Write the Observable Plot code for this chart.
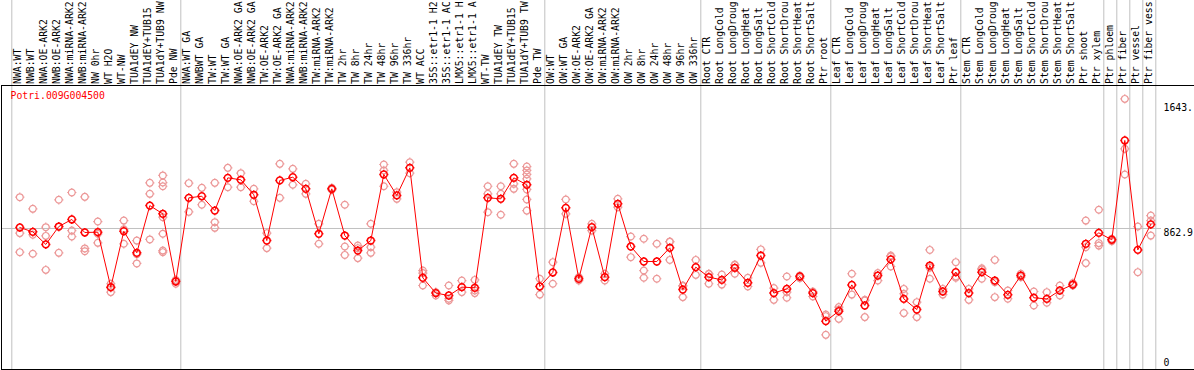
<!DOCTYPE html>
<html>
<head>
<meta charset="utf-8">
<script src="https://cdn.jsdelivr.net/npm/d3@7"></script>
<script src="https://cdn.jsdelivr.net/npm/@observablehq/plot@0.6"></script>
<style>
  html, body { margin: 0; padding: 0; background: #fff; }
  #chart svg { display: block; }
</style>
</head>
<body>
<div id="chart"></div>
<script>
const geneTitle = "Potri.009G004500";

const sampleNames = [
  "NWA:WT", "NWB:WT", "NWA:OE-ARK2", "NWB:OE-ARK2", "NWA:miRNA-ARK2", "NWB:miRNA-ARK2",
  "NW 0hr", "WT H2O", "WT-NW", "TUA1dEY NW", "TUA1dEY+TUB15 NW", "TUA1dY+TUB9 NW", "Pde NW",
  "NWA:WT GA", "NWBWT GA", "TW:WT", "TW:WT GA", "NWA:OE-ARK2 GA", "NWB:OE-ARK2 GA",
  "TW:OE-ARK2", "TW:OE-ARK2 GA", "NWA:miRNA-ARK2 GA", "NWB:miRNA-ARK2 GA", "TW:miRNA-ARK2",
  "TW:miRNA-ARK2 GA", "TW 2hr", "TW 8hr", "TW 24hr", "TW 48hr", "TW 96hr", "TW 336hr",
  "WT ACC", "35S::etr1-1 H2O", "35S::etr1-1 ACC", "LMX5::etr1-1 H2O", "LMX5::etr1-1 ACC",
  "WT-TW", "TUA1dEY TW", "TUA1dEY+TUB15 TW", "TUA1dY+TUB9 TW", "Pde TW",
  "OW:WT", "OW:WT GA", "OW:OE-ARK2", "OW:OE-ARK2 GA", "OW:miRNA-ARK2", "OW:miRNA-ARK2 GA",
  "OW 2hr", "OW 8hr", "OW 24hr", "OW 48hr", "OW 96hr", "OW 336hr",
  "Root CTR", "Root LongCold", "Root LongDrought", "Root LongHeat", "Root LongSalt",
  "Root ShortCold", "Root ShortDrought", "Root ShortHeat", "Root ShortSalt", "Ptr root",
  "Leaf CTR", "Leaf LongCold", "Leaf LongDrought", "Leaf LongHeat", "Leaf LongSalt",
  "Leaf ShortCold", "Leaf ShortDrought", "Leaf ShortHeat", "Leaf ShortSalt", "Ptr leaf",
  "Stem CTR", "Stem LongCold", "Stem LongDrought", "Stem LongHeat", "Stem LongSalt",
  "Stem ShortCold", "Stem ShortDrought", "Stem ShortHeat", "Stem ShortSalt", "Ptr shoot",
  "Ptr xylem", "Ptr phloem", "Ptr fiber", "Ptr vessel", "Ptr fiber vessel"
];

const meanValues = [
  869, 842, 764, 875, 919, 838, 840, 499, 846, 712, 1005, 954, 534,
  1053, 1063, 974, 1177, 1165, 1072, 788, 1161, 1181, 1109, 830, 1109, 819, 726, 788,
  1198, 1068, 1239, 557, 462, 447, 499, 495, 1053, 1047, 1177, 1134, 503,
  590, 991, 551, 871, 561, 1016, 751, 658, 658, 743, 484, 623,
  561, 544, 619, 526, 695, 462, 488, 565, 462, 288,
  350, 513, 385, 571, 671, 426, 360, 633, 472, 592,
  462, 592, 540, 451, 571, 433, 426, 478, 515, 768, 836,
  793, 1409, 730, 888
];

const replicateValues = [
  [1057, 834, 716], [985, 824, 706], [871, 817, 606], [1041, 875, 712], [1086, 850, 813],
  [1059, 739, 722], [906, 830, 774], [520, 495, 468], [912, 858, 768], [788, 703, 646],
  [1146, 1078, 795], [1192, 1148, 1125, 933, 830, 726, 716], [544, 538, 520],
  [1144, 966], [1115, 1010], [1146, 902, 867], [1239, 1119], [1206, 1119], [1109, 1032],
  [834, 741], [1264, 1053], [1233, 1134], [1140, 1078], [892, 768], [1115, 1103],
  [1010, 751, 699], [757, 741, 679], [892, 747, 712], [1260, 1223, 1125], [1088, 1047],
  [1274, 1206], [602, 586, 509], [468, 447], [509, 427, 416], [540, 468], [544, 478, 462],
  [1125, 1078, 964], [1125, 1078, 948], [1264, 1140, 1109],
  [1247, 1223, 1198, 1171, 1105, 1043, 974], [551, 453],
  [654, 520], [1043, 954], [561, 540], [892, 850], [582, 540], [1047, 995], [813, 685],
  [799, 602, 557], [768, 551], [782, 780, 668], [509, 505, 437], [668, 575],
  [582, 580, 520], [577, 515], [639, 636, 582], [557, 503], [733, 650], [493, 420],
  [565, 468, 433], [571, 555], [472, 441], [329, 319, 203],
  [375, 360, 302], [582, 453], [416, 420, 313], [586, 540], [695, 689, 627],
  [488, 458, 338], [406, 313], [730, 620, 551], [488, 453], [654, 565, 557],
  [488, 420], [608, 616, 551], [668, 530, 437], [478, 427], [582, 561], [472, 385],
  [468, 402], [509, 447], [524, 509], [912, 747, 648], [979, 772, 757],
  [799, 784], [1667, 1357, 1198], [875, 592], [943, 912, 819]
];

// group boundaries: separator drawn after these sample numbers (1-based)
const groupEnds = [0, 13, 41, 53, 63, 73, 84, 85, 86, 87, 88];

const axisTicks = [1643, 862.9, 0];
const axisTickLabels = ["1643.", "862.9", "0"];
const gridValues = [862.9];

// the label band only shows this many characters of each sample name
const labelChars = 14;

// scale setup
const xDomain = [-0.408, 91.361];
const yDomain = [-12, 1750];

const samples = sampleNames.map((name, i) => ({idx: i + 1, name, mean: meanValues[i]}));
const reps = replicateValues.flatMap((arr, i) => arr.map(v => ({idx: i + 1, v})));

const tickCircle = {
  draw(ctx, size) {
    const r = Math.sqrt(size / Math.PI);
    ctx.moveTo(r, 0);
    ctx.arc(0, 0, r, 0, 2 * Math.PI);
    ctx.moveTo(0, -r - 1.2); ctx.lineTo(0, -r);
    ctx.moveTo(0, r); ctx.lineTo(0, r + 1.2);
    ctx.moveTo(-r - 1.2, 0); ctx.lineTo(-r, 0);
    ctx.moveTo(r, 0); ctx.lineTo(r + 1.2, 0);
  }
};

const topTicks = axisTicks.map((v, i) => ({v, label: axisTickLabels[i]})).filter(d => d.v !== 0);
const zeroTicks = axisTicks.map((v, i) => ({v, label: axisTickLabels[i]})).filter(d => d.v === 0);

const chart = Plot.plot({
  width: 1194,
  height: 370,
  marginLeft: 1,
  marginRight: 0,
  marginTop: 85,
  marginBottom: 1,
  style: {fontFamily: "'DejaVu Sans Mono', monospace", fontSize: "9.8px", background: "#fff", overflow: "visible"},
  x: {type: "linear", domain: xDomain, axis: null},
  y: {type: "linear", domain: yDomain, axis: null},
  marks: [
    Plot.ruleX(groupEnds, {x: d => d + 0.385, stroke: "#c0c0c0", strokeWidth: 1, insetTop: -85}),
    Plot.ruleY(gridValues, {stroke: "#c0c0c0", strokeWidth: 1, insetRight: 33}),
    Plot.frame({anchor: "top", stroke: "#000"}),
    Plot.frame({anchor: "bottom", stroke: "#000"}),
    Plot.frame({anchor: "left", stroke: "#000"}),
    Plot.text(samples, {
      x: "idx", text: d => d.name.slice(0, labelChars).trimEnd(), frameAnchor: "top", rotate: -90,
      textAnchor: "start", lineAnchor: "middle", dx: -1.5, dy: -1.5, fill: "#000"
    }),
    Plot.text([geneTitle], {
      frameAnchor: "top-left", text: d => d, textAnchor: "start", lineAnchor: "top",
      dx: 9, dy: 7, fill: "#ff0000"
    }),
    Plot.text(topTicks, {
      y: "v", text: "label", frameAnchor: "right", textAnchor: "start", lineAnchor: "top",
      dx: -31, dy: 1, fill: "#000"
    }),
    Plot.text(zeroTicks, {
      y: "v", text: "label", frameAnchor: "right", textAnchor: "start", lineAnchor: "bottom",
      dx: -31, dy: -1.5, fill: "#000"
    }),
    Plot.dot(reps, {x: "idx", y: "v", r: 3.4, symbol: tickCircle, stroke: "#ec9898", strokeWidth: 1.2, fill: "none"}),
    Plot.line(samples, {x: "idx", y: "mean", stroke: "#ff0000", strokeWidth: 1}),
    Plot.dot(samples, {x: "idx", y: "mean", r: 3.4, symbol: tickCircle, stroke: "#ff0000", strokeWidth: 1.5, fill: "none"})
  ]
});

document.getElementById("chart").appendChild(chart);
</script>
</body>
</html>
